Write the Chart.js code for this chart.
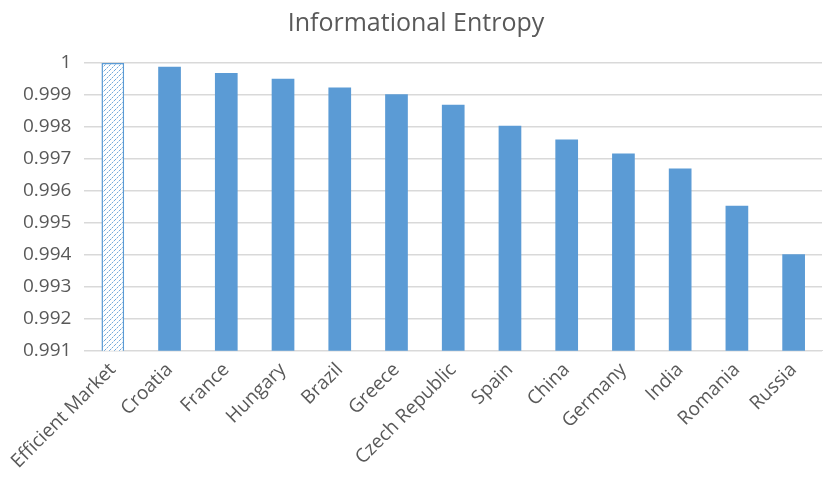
<!DOCTYPE html>
<html>
<head>
<meta charset="utf-8">
<script src="https://cdn.jsdelivr.net/npm/chart.js@4.4.1/dist/chart.umd.min.js"></script>
<style>
  html, body { margin: 0; padding: 0; background: #ffffff; }
  #wrap { width: 824px; height: 481px; }
</style>
</head>
<body>
<div id="wrap"><canvas id="entropy" width="824" height="481"></canvas></div>
<script>
// Informational entropy of stock market returns, by country
const categories = ['Efficient Market', 'Croatia', 'France', 'Hungary', 'Brazil', 'Greece',
  'Czech Republic', 'Spain', 'China', 'Germany', 'India', 'Romania', 'Russia'];
const entropyValues = [1.0, 0.99988, 0.99969, 0.99951, 0.99923, 0.99902,
  0.99869, 0.99804, 0.99761, 0.99717, 0.99670, 0.99553, 0.99402];
const yTickValues = [0.991, 0.992, 0.993, 0.994, 0.995, 0.996, 0.997, 0.998, 0.999, 1];

const BLUE = '#5b9bd5';
const TEXT = '#595959';
const FONT = "'Open Sans', 'Liberation Sans', sans-serif";

// Dotted diagonal hatch used for the theoretical benchmark bar
function makeHatch() {
  const n = 5;
  const c = document.createElement('canvas');
  c.width = n; c.height = n;
  const g = c.getContext('2d');
  g.fillStyle = '#ffffff';
  g.fillRect(0, 0, n, n);
  for (let i = 0; i < n; i++) {
    g.fillStyle = i % 2 === 0 ? 'rgba(91,155,213,0.85)' : 'rgba(91,155,213,0.35)';
    g.fillRect(i, n - 1 - i, 1, 1);
  }
  return g.createPattern(c, 'repeat');
}
const hatch = makeHatch();

const fills = categories.map((_, i) => i === 0 ? hatch : BLUE);
const borders = categories.map(() => BLUE);
const borderWidths = categories.map((_, i) => i === 0 ? 1.5 : 0);

new Chart(document.getElementById('entropy'), {
  type: 'bar',
  data: {
    labels: categories,
    datasets: [{
      label: 'Informational Entropy',
      data: entropyValues,
      backgroundColor: fills,
      borderColor: borders,
      borderWidth: borderWidths,
      barPercentage: 0.8,
      categoryPercentage: 0.5
    }]
  },
  options: {
    responsive: false,
    animation: false,
    layout: { padding: { left: 10, right: 2, top: 0, bottom: 0 } },
    plugins: {
      legend: { display: false },
      tooltip: { enabled: false },
      title: {
        display: true,
        text: 'Informational Entropy',
        color: TEXT,
        font: { family: FONT, size: 25, weight: 'normal' },
        padding: { top: 9, bottom: 24 }
      }
    },
    scales: {
      x: {
        grid: { display: false, drawTicks: false },
        border: { display: true, color: '#d9d9d9', width: 1 },
        ticks: {
          color: TEXT,
          font: { family: FONT, size: 19 },
          minRotation: 45,
          maxRotation: 45,
          autoSkip: false,
          padding: 8
        }
      },
      y: {
        min: 0.991,
        max: 1,
        afterBuildTicks: (axis) => { axis.ticks = yTickValues.map(v => ({ value: v })); },
        grid: { color: '#d9d9d9', lineWidth: 1.5, drawTicks: false },
        border: { display: false },
        ticks: {
          color: TEXT,
          font: { family: FONT, size: 19 },
          padding: 13,
          callback: (v) => (Math.abs(v - 1) < 1e-9 ? '1' : Number(v).toFixed(3))
        }
      }
    }
  }
});
</script>
</body>
</html>
